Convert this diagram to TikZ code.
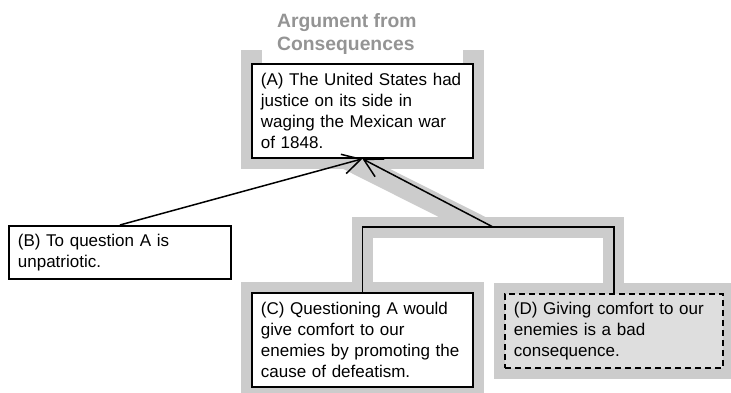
\documentclass[tikz,border=0pt]{standalone}
\usepackage{fontspec}
\setmainfont{Liberation Sans}
\usetikzlibrary{arrows.meta,backgrounds,calc}

\begin{document}
\begin{tikzpicture}[
    x=1pt, y=-1pt,
    claim/.style={draw=black, line width=1.8pt, fill=white, anchor=north west, align=left,
        inner xsep=9pt, inner ysep=0pt, font=\fontsize{17}{20.7}\selectfont},
    unstated/.style={claim, dash pattern=on 6pt off 4pt, fill=black!13},
    hull/.style={line width=21pt, draw=black!20, line join=miter},
    link/.style={line width=1.5pt, color=black},
    support/.style={link, -{Straight Barb[length=18pt, width=20pt]}},
    heading/.style={font=\fontsize{19.3}{23}\selectfont\bfseries, color=black!42, align=left,
        inner sep=0pt, anchor=base west}
]
    \useasboundingbox (0,0) rectangle (731,392);

    \node[heading] (title) at (277,50) {Argument from\\Consequences};

    \node[claim, text width=203pt, minimum height=94pt] (a) at (251,63)
        {(A) The United States had\\justice on its side in\\waging the Mexican war\\of 1848.};
    \node[claim, text width=204pt, minimum height=53pt] (b) at (8,225)
        {(B) To question A is\\unpatriotic.};
    \node[claim, text width=203pt, minimum height=94pt] (c) at (251,292)
        {(C) Questioning A would\\give comfort to our\\enemies by promoting the\\cause of defeatism.};
    \node[unstated, text width=200pt, minimum height=74pt] (d) at (504,293)
        {(D) Giving comfort to our\\enemies is a bad\\consequence.};

    \coordinate (join) at (493,227);

    % grey outline of the argument
    \begin{scope}[on background layer]
        \draw[hull] ([yshift=13pt]a.north west) -- (a.south west) -- (a.south east) -- ([yshift=13pt]a.north east);
        \draw[hull] ($(a.south)+(-16,0)$) -- ($(join)+(-11,0)$);
        \draw[hull] (c.north) |- (join) -| (d.north);
        \draw[hull] (c.north west) rectangle (c.south east);
        \draw[hull] (d.north west) rectangle (d.south east);
    \end{scope}

    \draw[link] (c.north) |- (join) -| (d.north);
    \draw[support] (join) -- (a.south);
    \draw[support] (b.north) -- (a.south);
\end{tikzpicture}
\end{document}
